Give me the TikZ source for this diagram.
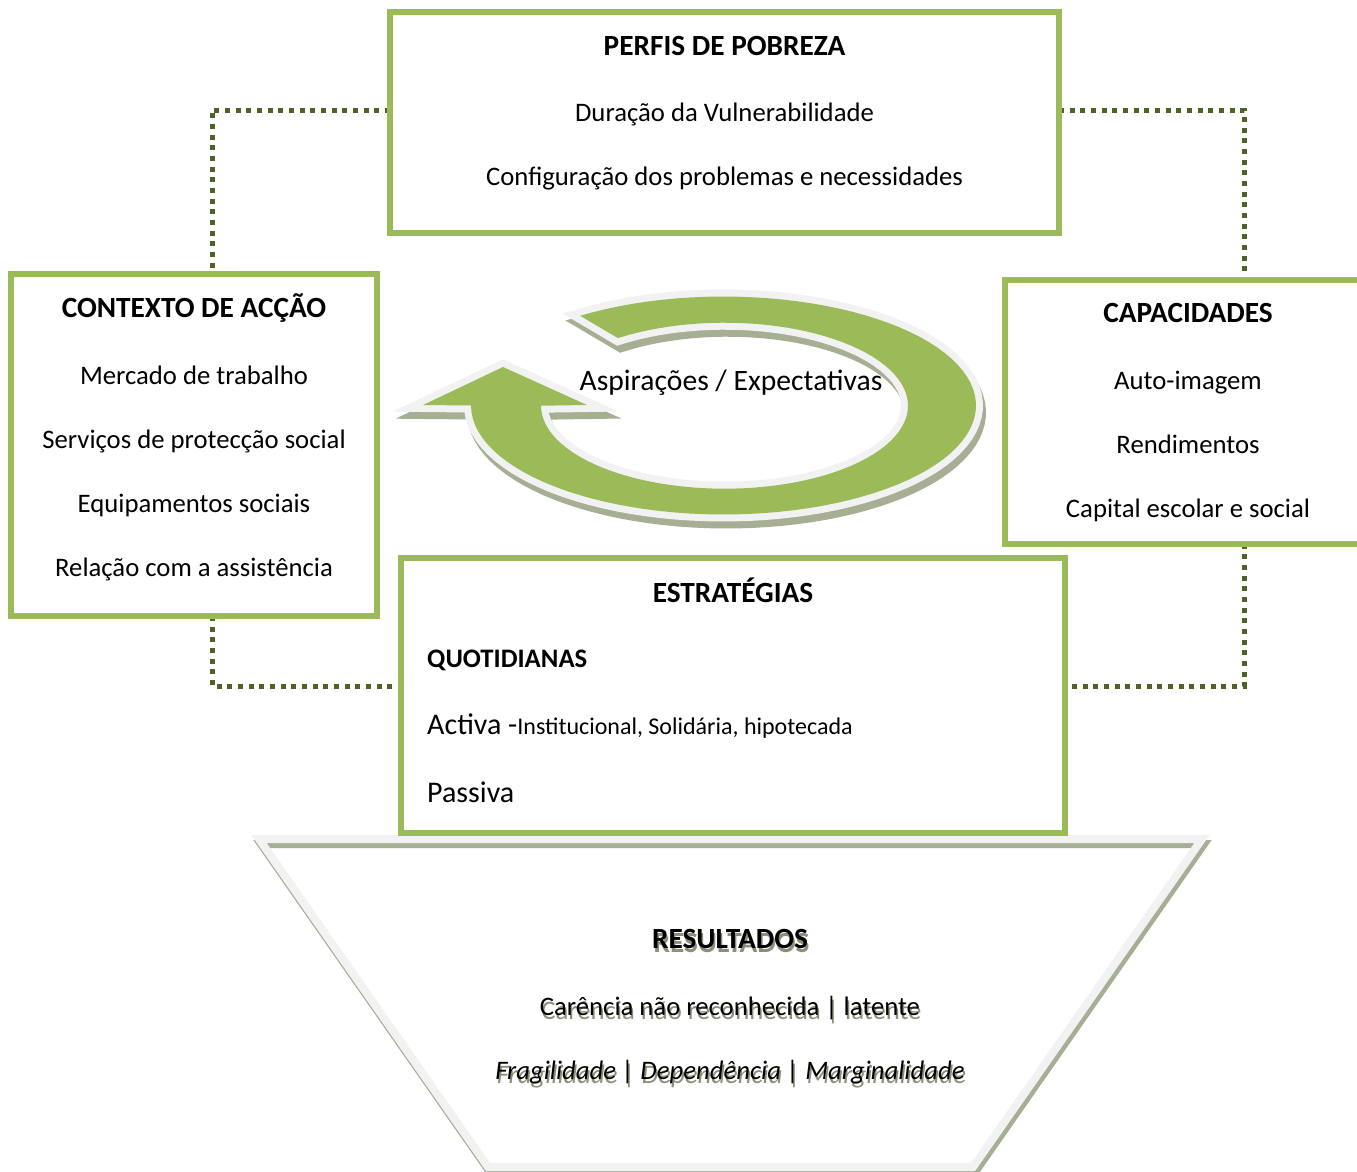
\documentclass[tikz,border=0pt]{standalone}
\usepackage{fontspec}
\setmainfont{Carlito}
\definecolor{boxgreen}{HTML}{9BBB59}
\definecolor{dotgreen}{HTML}{4F6228}
\definecolor{bevel}{HTML}{F2F2F2}
\definecolor{shade}{HTML}{A6AF94}
\definecolor{txtshade}{HTML}{8A9078}
\newcommand{\shtext}[1]{\makebox[0pt][l]{\hspace{1.5pt}\raisebox{-4.5pt}{\textcolor{txtshade}{#1}}}#1}

\begin{document}
\begin{tikzpicture}[x=1pt,y=-1pt,
    box/.style={draw=boxgreen,line width=6pt,fill=white,inner sep=0pt},
    dotline/.style={draw=dotgreen,line width=5pt,dash pattern=on 5pt off 5.67pt},
    txt/.style={font=\fontsize{26.7}{32}\selectfont,inner sep=0pt,anchor=base},
    hd/.style={txt,font=\fontsize{29.3}{35}\selectfont\bfseries},
    big/.style={txt,anchor=base west,font=\fontsize{30}{36}\selectfont},
    funnelshadow/.style={draw=shade,line width=8pt,shift={(2,5)}},
    funnelbevel/.style={draw=bevel,line width=8pt},
    arrowshadow/.style={draw=shade,fill=shade,line width=14pt,shift={(3,7)}},
    arrowbevel/.style={draw=bevel,line width=14pt},
    arrowfill/.style={fill=boxgreen}]
    \useasboundingbox (0,0) rectangle (1357,1171);

    % funnel of results
    \foreach \sty in {funnelshadow,funnelbevel}
      \path[\sty] (259,839) -- (1202,839) -- (973,1167) -- (488,1167) -- cycle;

    % dotted links
    \node[box,minimum width=663pt,minimum height=215pt] (perfis) at (724.5,122.4) {};
    \node[box,minimum width=360pt,minimum height=336pt] (contexto) at (194,445) {};
    \node[box,minimum width=360pt,minimum height=258pt] (capac) at (1188,411.7) {};
    \node[box,minimum width=658pt,minimum height=269.5pt] (estrat) at (733,695.5) {};
    \draw[dotline] ([yshift=12.4pt]perfis.west) -| ([xshift=18pt]contexto.north);
    \draw[dotline] ([yshift=12.4pt]perfis.east) -| ([xshift=56pt]capac.north);
    \draw[dotline] ([xshift=18pt]contexto.south) |- ([yshift=9.5pt]estrat.west);
    \draw[dotline] ([xshift=56pt]capac.south) |- ([yshift=9.5pt]estrat.east);
    \foreach \b in {perfis,contexto,capac,estrat}
      \path[box] (\b.north west) rectangle (\b.south east);

    % cycle arrow
    \foreach \sty in {arrowshadow,arrowbevel,arrowfill}
      \path[\sty] plot[domain=124.6:-180,samples=90] ({723.5+252.5*cos(\x)},{405.5-109*sin(\x)})
        -- (423,405) -- (503,367) -- (587,405)
        -- plot[domain=-180:125.5,samples=90] ({724.5+183.5*cos(\x)},{405.7-83*sin(\x)}) -- cycle;
    \node[txt,font=\fontsize{29.6}{35}\selectfont] (aspir) at (731,390) {Aspirações / Expectativas};

    \node[hd] (perfisT) at (724.5,55) {PERFIS DE POBREZA};
    \node[txt] (perfisA) at (724.5,121) {Duração da Vulnerabilidade};
    \node[txt] (perfisB) at (724.5,185) {Configuração dos problemas e necessidades};

    \node[hd] (contextoT) at (194,317) {CONTEXTO DE ACÇÃO};
    \node[txt] (contextoA) at (194,384) {Mercado de trabalho};
    \node[txt] (contextoB) at (194,448) {Serviços de protecção social};
    \node[txt] (contextoC) at (194,512) {Equipamentos sociais};
    \node[txt] (contextoD) at (194,576) {Relação com a assistência};

    \node[hd] (capacT) at (1188,322) {CAPACIDADES};
    \node[txt] (capacA) at (1188,389) {Auto-imagem};
    \node[txt] (capacB) at (1188,453) {Rendimentos};
    \node[txt] (capacC) at (1188,517) {Capital escolar e social};

    \node[hd] (estratT) at (733,602) {ESTRATÉGIAS};
    \node[txt,font=\fontsize{26.7}{32}\selectfont\bfseries,anchor=base west] (quotid) at (427,667) {QUOTIDIANAS};
    \node[big] (activa) at (427,734) {Activa -\fontsize{24}{29}\selectfont Institucional, Solidária, hipotecada};
    \node[big] (passiva) at (427,802) {Passiva};

    \node[hd] (resT) at (730,948) {\shtext{RESULTADOS}};
    \node[txt] (resA) at (730,1015) {\shtext{Carência não reconhecida | latente}};
    \node[txt] (resB) at (730,1079) {\itshape\shtext{Fragilidade | Dependência | Marginalidade}};
\end{tikzpicture}
\end{document}
